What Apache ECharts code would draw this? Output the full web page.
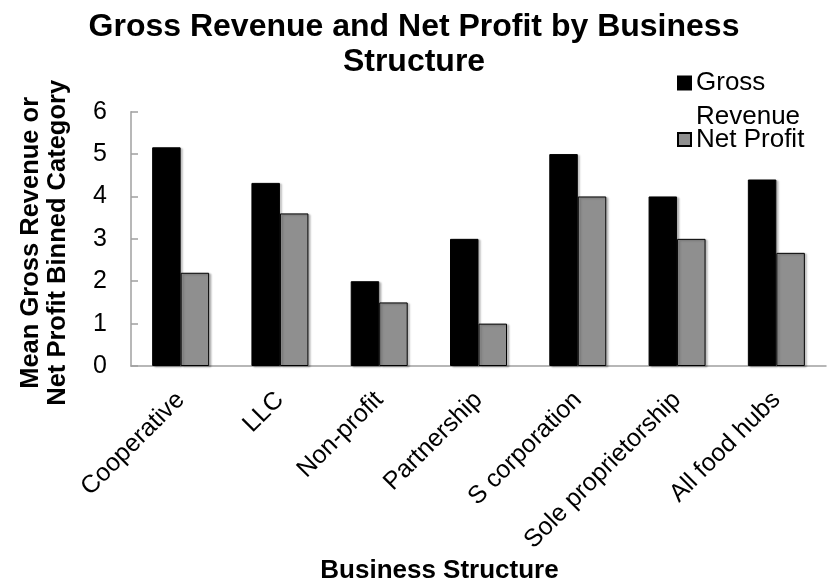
<!DOCTYPE html>
<html>
<head>
<meta charset="utf-8">
<script src="https://cdn.jsdelivr.net/npm/echarts@6/dist/echarts.min.js"></script>
<style>
  html, body { margin: 0; padding: 0; background: #fff; }
  #main { width: 828px; height: 582px; }
</style>
</head>
<body>
<div id="main"></div>
<script>
// data
const categories = ["Cooperative", "LLC", "Non-profit", "Partnership", "S corporation", "Sole proprietorship", "All food hubs"];
const grossRevenue = [5.16, 4.32, 2.0, 3.0, 5.0, 4.0, 4.4];
const netProfit = [2.2, 3.6, 1.5, 1.0, 4.0, 3.0, 2.67];
const yTicks = [0, 1, 2, 3, 4, 5, 6];

const FONT = "Liberation Sans, Arial, sans-serif";

const chart = echarts.init(document.getElementById("main"));

const barStyle = {
  borderColor: "#000",
  borderWidth: 1,
  shadowColor: "rgba(0,0,0,0.25)",
  shadowBlur: 2,
  shadowOffsetX: 2,
  shadowOffsetY: 1
};

chart.setOption({
  animation: false,
  textStyle: { fontFamily: FONT },
  title: {
    text: "Gross Revenue and Net Profit by Business\nStructure",
    left: "center",
    top: 5,
    textStyle: { fontFamily: FONT, fontSize: 32, fontWeight: "bold", color: "#000", lineHeight: 35 }
  },
  legend: {
    orient: "vertical",
    left: 677,
    top: 66,
    padding: 0,
    itemWidth: 13,
    itemHeight: 47,
    itemGap: -19,
    textStyle: { fontFamily: FONT, fontSize: 26, color: "#000", lineHeight: 34 },
    formatter: function (name) {
      return name === "Gross Revenue" ? "Gross\nRevenue" : name;
    },
    data: [
      { name: "Gross Revenue", icon: "path://M0,0H13V13H0Z M0,47" },
      { name: "Net Profit", icon: "path://M0,17H13V30H0Z M0,0 M0,47" }
    ]
  },
  grid: {
    left: 131,
    right: 2,
    top: 111.7,
    bottom: 216,
    outerBoundsMode: "none"
  },
  xAxis: {
    type: "category",
    data: categories,
    name: "Business Structure",
    nameLocation: "middle",
    nameGap: 192,
    nameTextStyle: { fontFamily: FONT, fontSize: 26, fontWeight: "bold", color: "#000", padding: [0, 78, 0, 0] },
    axisLine: { lineStyle: { color: "#a0a0a0", width: 1.5 } },
    axisTick: { inside: true, length: 7, lineStyle: { color: "#a0a0a0", width: 1.5 } },
    axisLabel: { rotate: 45, margin: 30, fontFamily: FONT, fontSize: 25, color: "#000", interval: 0 }
  },
  yAxis: {
    type: "value",
    min: yTicks[0],
    max: yTicks[yTicks.length - 1],
    interval: 1,
    name: "Mean Gross Revenue or\nNet Profit Binned Category",
    nameLocation: "middle",
    nameGap: 60,
    nameTextStyle: { fontFamily: FONT, fontSize: 25.5, fontWeight: "bold", color: "#000", lineHeight: 27, padding: [0, 8, 0, 0] },
    axisLine: { show: true, lineStyle: { color: "#a0a0a0", width: 1.5 } },
    axisTick: { show: true, inside: true, length: 7, lineStyle: { color: "#a0a0a0", width: 1.5 } },
    axisLabel: { margin: 24, fontFamily: FONT, fontSize: 25, color: "#000" },
    splitLine: { show: false }
  },
  series: [
    {
      name: "Gross Revenue",
      type: "bar",
      data: grossRevenue,
      barWidth: 28.5,
      barGap: "0%",
      itemStyle: Object.assign({ color: "#000" }, barStyle)
    },
    {
      name: "Net Profit",
      type: "bar",
      data: netProfit,
      barWidth: 28.5,
      barGap: "0%",
      itemStyle: Object.assign({ color: "#8f8f8f" }, barStyle)
    }
  ]
});
</script>
</body>
</html>
